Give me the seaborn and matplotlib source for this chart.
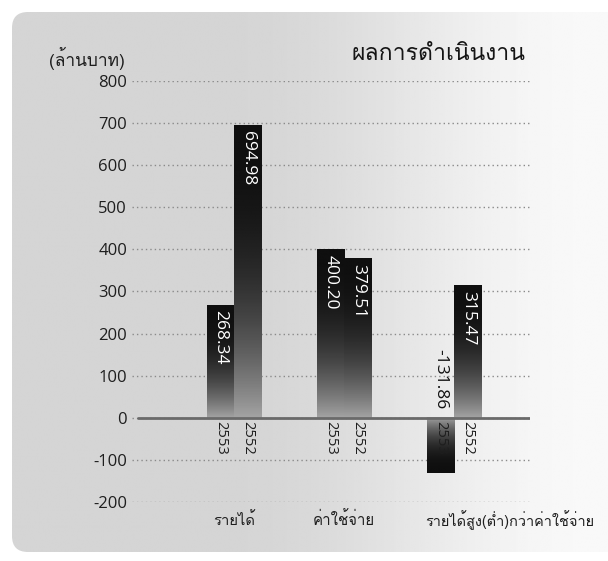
import matplotlib
matplotlib.use('Agg')
import matplotlib.pyplot as plt
import matplotlib.transforms as mtransforms
from matplotlib import font_manager
from matplotlib.patches import FancyBboxPatch
import numpy as np
import pandas as pd
import seaborn as sns

categories = ['รายได้', 'ค่าใช้จ่าย', 'รายได้สูง(ต่ำ)กว่าค่าใช้จ่าย']
years = ['2553', '2552']
values_2553 = [268.34, 400.20, -131.86]
values_2552 = [694.98, 379.51, 315.47]
y_ticks = [-200, -100, 0, 100, 200, 300, 400, 500, 600, 700, 800]
title = 'ผลการดำเนินงาน'
unit_label = '(ล้านบาท)'


def find_thai_font():
    # look for any installed font that actually has Thai glyphs
    try:
        from fontTools.ttLib import TTFont
    except ImportError:
        return None
    for f in font_manager.fontManager.ttflist:
        try:
            tt = TTFont(f.fname, fontNumber=0, lazy=True)
            cmap = tt.getBestCmap() or {}
            if 0x0E01 in cmap and 0x0E32 in cmap and 0x0E49 in cmap:
                return f.name
        except Exception:
            continue
    return None


def fit_width(txt, width_px, max_size):
    # shrink a text so that it spans about width_px pixels
    fig.canvas.draw()
    w = txt.get_window_extent().width
    if w > 0:
        txt.set_fontsize(min(max_size, txt.get_fontsize() * width_px / w))


sns.set_style('white')
thai_font = find_thai_font()
latin = ['Open Sans', 'DejaVu Sans']
thai = ([thai_font] if thai_font else []) + latin
plt.rcParams['font.family'] = latin

df = pd.DataFrame({
    'category': categories * 2,
    'year': [years[0]] * 3 + [years[1]] * 3,
    'value': values_2553 + values_2552,
})

fig = plt.figure(figsize=(6.08, 5.61), dpi=100, facecolor='white')

# scanned-page style gray panel with rounded corners
bg = fig.add_axes([0, 0, 1, 1], zorder=-5)
bg.set_xlim(0, 608)
bg.set_ylim(561, 0)
bg.axis('off')
xx = np.linspace(0, 608, 300)
s = np.clip((xx - 230) / 370, 0, 1)
shade = 0.835 + 0.14 * s * s * (3 - 2 * s)
panel = FancyBboxPatch((12, 12), 620, 540, boxstyle='round,pad=0,rounding_size=16',
                       facecolor='none', edgecolor='none', transform=bg.transData)
bg.add_patch(panel)
im = bg.imshow(np.tile(shade, (2, 1)), cmap='gray', vmin=0, vmax=1,
               extent=[0, 608, 561, 0], aspect='auto', interpolation='bilinear')
im.set_clip_path(panel)

ax = fig.add_axes([132 / 608, 1 - 502 / 561, 398 / 608, 421 / 561])
ax.patch.set_visible(False)

sns.barplot(data=df, x='category', y='value', hue='year', hue_order=years,
            order=categories, width=0.5, dodge=True, legend=False,
            color='black', ax=ax, saturation=1)

centers = list(ax.get_xticks())

# gradient fill: dark at the tip of the bar, fading toward zero
dark, light = 0.06, 0.64
n = 200
for patch in list(ax.patches):
    x0 = patch.get_x()
    w = patch.get_width()
    h = patch.get_height()
    t = np.linspace(0, 1, n)  # 0 at zero end, 1 at tip
    col = dark + (light - dark) * (1 - t) ** 2.4
    if h >= 0:
        arr = col[:, None]
        ext = [x0, x0 + w, 0, h]
    else:
        arr = col[::-1][:, None]
        ext = [x0, x0 + w, h, 0]
    ax.imshow(arr, cmap='gray', vmin=0, vmax=1, origin='lower', extent=ext,
              aspect='auto', interpolation='bilinear', zorder=2)
    patch.set_facecolor('none')
    patch.set_edgecolor('none')

ax.set_xlim(centers[0] - 0.93, centers[0] + 2.69)
ax.set_ylim(-200, 800)

ax.set_yticks(y_ticks)
ax.set_yticklabels([str(v) for v in y_ticks])
ax.tick_params(axis='y', length=0, pad=3.5, labelsize=12, labelcolor='#1e1e1e')
ax.set_xticks([])
ax.set_xlabel('')
ax.set_ylabel('')
for sp in ax.spines.values():
    sp.set_visible(False)

ax.set_axisbelow(True)
ax.yaxis.grid(True, linestyle=(0, (1, 2.2)), color='#8a8a8a', linewidth=1.0)
ax.axhline(0, xmin=0.015, xmax=1, color='#6a6a6a', linewidth=2, zorder=3)

bar_w = 0.25
offsets = [-bar_w / 2, bar_w / 2]
series = [values_2553, values_2552]

down = mtransforms.offset_copy(ax.transData, fig=fig, x=0, y=-4, units='points')
up = mtransforms.offset_copy(ax.transData, fig=fig, x=0, y=6, units='points')
below = mtransforms.offset_copy(ax.transData, fig=fig, x=0, y=-2, units='points')
for c, center in enumerate(centers):
    for k, yr in enumerate(years):
        bx = center + offsets[k]
        v = series[k][c]
        # year label just under the zero line
        ax.text(bx, 0, yr, transform=below, rotation=270, ha='center',
                va='top', fontsize=10.5, color='#1e1e1e', zorder=4)
        label = f'{v:.2f}'
        if v >= 0:
            ax.text(bx, v, label, transform=down, rotation=270, ha='center',
                    va='top', fontsize=12.5, color='white', zorder=4)
        else:
            ax.text(bx, 0, label, transform=up, rotation=270, ha='center',
                    va='bottom', fontsize=12.5, color='#111111', zorder=4)

# category names under the chart
lab_tf = mtransforms.blended_transform_factory(ax.transData, fig.transFigure)
label_widths = [42, 62, 170]
for c, center in enumerate(centers):
    if c == len(centers) - 1:
        t = ax.text(center - bar_w - 0.01, 1 - 520 / 561, categories[c],
                    transform=lab_tf, ha='left', va='center', fontsize=12.5,
                    family=thai, color='#1e1e1e')
    else:
        t = ax.text(center, 1 - 520 / 561, categories[c], transform=lab_tf,
                    ha='center', va='center', fontsize=12.5, family=thai,
                    color='#1e1e1e')
    fit_width(t, label_widths[c], 12.5)

ttl = fig.text(525 / 608, 1 - 55 / 561, title, ha='right', va='center',
               fontsize=19, family=thai, color='#151515')
fit_width(ttl, 174, 19)
unit = fig.text(125 / 608, 1 - 58 / 561, unit_label, ha='right', va='center',
                fontsize=12.5, family=thai, color='#1e1e1e')
fit_width(unit, 80, 12.5)

fig.savefig('out.png', dpi=100, facecolor='white')
